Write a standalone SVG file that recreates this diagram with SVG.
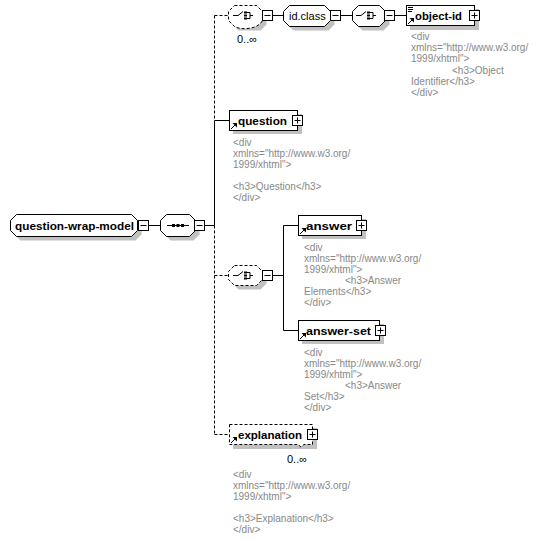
<svg xmlns="http://www.w3.org/2000/svg" width="539" height="540" viewBox="0 0 539 540">
<defs>
<style>
.sh{fill:#c0c0c0;stroke:none}
.bx{fill:#fff;stroke:#000;stroke-width:1}
.dbx{fill:#fff;stroke:#000;stroke-width:1;stroke-dasharray:3,2}
.ln{stroke:#000;stroke-width:1;fill:none}
.dl{stroke:#000;stroke-width:1;fill:none;stroke-dasharray:3,2}
.lbl{font-family:"Liberation Sans",Arial,sans-serif;font-size:11.5px;font-weight:bold;fill:#000}
.nl{font-family:"Liberation Sans",Arial,sans-serif;font-size:11px;fill:#000}
.occ{font-family:"Liberation Sans",Arial,sans-serif;font-size:11px;fill:#000}
.ann{font-family:"Liberation Sans",Arial,sans-serif;font-size:10px;fill:#888}
</style>
<g id="minus"><rect x="0.5" y="0.5" width="10" height="10" class="bx"/><line x1="2.5" y1="5.5" x2="8.5" y2="5.5" class="ln"/></g>
<g id="plus"><rect x="0.5" y="0.5" width="10" height="10" class="bx"/><line x1="2.5" y1="5.5" x2="8.5" y2="5.5" class="ln"/><line x1="5.5" y1="2.5" x2="5.5" y2="8.5" class="ln"/></g>
<g id="ref"><line x1="0" y1="6" x2="4.5" y2="1.5" class="ln" stroke-width="1.5"/><polygon points="1.5,0 6,0 6,4.5" fill="#000"/></g>
<g id="choiceSym">
<line x1="-11" y1="0" x2="-6" y2="0" class="ln"/>
<line x1="-6" y1="0" x2="-1" y2="-4" class="ln"/>
<rect x="0" y="-4" width="3" height="2" fill="#000"/>
<rect x="0" y="-1" width="3" height="2" fill="#000"/>
<rect x="0" y="2" width="3" height="2" fill="#000"/>
<path d="M3,-3 H6 V3 H3 M6,0 H9" class="ln"/>
</g>
<g id="seqSym">
<line x1="-11" y1="0" x2="11" y2="0" class="ln"/>
<rect x="-6" y="-1.5" width="3" height="3" fill="#000"/>
<rect x="-1.5" y="-1.5" width="3" height="3" fill="#000"/>
<rect x="3" y="-1.5" width="3" height="3" fill="#000"/>
</g>
</defs>
<g id="connectors">
<line x1="149" y1="225.5" x2="160" y2="225.5" class="ln"/>
<line x1="205" y1="225.5" x2="214.5" y2="225.5" class="ln"/>
<line x1="214.5" y1="15.5" x2="214.5" y2="120.5" class="dl"/>
<line x1="214.5" y1="120.5" x2="214.5" y2="225.5" class="ln"/>
<line x1="214.5" y1="225.5" x2="214.5" y2="434.5" class="dl"/>
<line x1="214.5" y1="15.5" x2="228" y2="15.5" class="dl"/>
<line x1="214.5" y1="120.5" x2="229" y2="120.5" class="ln"/>
<line x1="214.5" y1="275.5" x2="228" y2="275.5" class="dl"/>
<line x1="214.5" y1="434.5" x2="229" y2="434.5" class="dl"/>
<line x1="273" y1="15.5" x2="283" y2="15.5" class="ln"/>
<line x1="341" y1="15.5" x2="352" y2="15.5" class="ln"/>
<line x1="395" y1="15.5" x2="406" y2="15.5" class="ln"/>
<line x1="273" y1="275.5" x2="283.5" y2="275.5" class="ln"/>
<line x1="283.5" y1="225.5" x2="283.5" y2="330.5" class="ln"/>
<line x1="283.5" y1="225.5" x2="298" y2="225.5" class="ln"/>
<line x1="283.5" y1="330.5" x2="298" y2="330.5" class="ln"/>
</g>
<g id="node-root">
<path d="M20.5,218.5 H135.5 L141.5,224.5 V234.5 L135.5,240.5 H20.5 L14.5,234.5 V224.5 Z" class="sh"/>
<path d="M16.5,214.5 H131.5 L137.5,220.5 V230.5 L131.5,236.5 H16.5 L10.5,230.5 V220.5 Z" class="bx"/>
<text x="15" y="229.5" class="lbl" textLength="119" lengthAdjust="spacingAndGlyphs">question-wrap-model</text>
<use href="#minus" x="138" y="220"/>
</g>
<g id="node-sequence">
<path d="M170.5,218.5 H193.5 L199.5,224.5 V234.5 L193.5,240.5 H170.5 L164.5,234.5 V224.5 Z" class="sh"/>
<path d="M166.5,214.5 H189.5 L195.5,220.5 V230.5 L189.5,236.5 H166.5 L160.5,230.5 V220.5 Z" class="bx"/>
<use href="#seqSym" x="178" y="225.5"/>
<use href="#minus" x="194" y="220"/>
</g>
<g id="node-choice1">
<path d="M238.5,9.5 H260.5 L266.5,15.5 V24.5 L260.5,30.5 H238.5 L232.5,24.5 V15.5 Z" class="sh"/>
<path d="M234.5,5.5 H256.5 L262.5,11.5 V20.5 C258,30 240,30 234.5,26.5 L228.5,20.5 V11.5 Z" class="dbx"/>
<use href="#choiceSym" x="244" y="15.5"/>
<use href="#minus" x="262" y="10"/>
<text x="237" y="43" class="occ">0..∞</text>
</g>
<g id="node-idclass">
<path d="M293.5,9.5 H328.5 L334.5,15.5 V24.5 L328.5,30.5 H293.5 L287.5,24.5 V15.5 Z" class="sh"/>
<path d="M289.5,5.5 H324.5 L330.5,11.5 V20.5 L324.5,26.5 H289.5 L283.5,20.5 V11.5 Z" class="bx"/>
<text x="289" y="20" class="nl">id.class</text>
<use href="#minus" x="330" y="10"/>
</g>
<g id="node-choice2">
<path d="M362.5,9.5 H383.5 L389.5,15.5 V24.5 L383.5,30.5 H362.5 L356.5,24.5 V15.5 Z" class="sh"/>
<path d="M358.5,5.5 H379.5 L385.5,11.5 V20.5 L379.5,26.5 H358.5 L352.5,20.5 V11.5 Z" class="bx"/>
<use href="#choiceSym" x="367" y="15.5"/>
<use href="#minus" x="384" y="10"/>
</g>
<g id="node-object-id">
<rect x="410" y="9" width="69" height="21" class="sh"/>
<rect x="406.5" y="5.5" width="68" height="20" class="bx"/>
<path d="M408,7.5 H413 M408,9.5 H413 M408,11.5 H412" class="ln"/>
<use href="#ref" x="408" y="18"/>
<text x="415" y="20" class="lbl" textLength="47" lengthAdjust="spacingAndGlyphs">object-id</text>
<use href="#plus" x="469" y="10"/>
<text class="ann"><tspan x="411" y="40">&lt;div</tspan><tspan x="411" y="51">xmlns="http://www.w3.org/</tspan><tspan x="411" y="62">1999/xhtml"&gt;</tspan><tspan x="452" y="74">&lt;h3&gt;Object</tspan><tspan x="411" y="85">Identifier&lt;/h3&gt;</tspan><tspan x="411" y="96">&lt;/div&gt;</tspan></text>
</g>
<g id="node-question">
<rect x="233" y="114" width="69" height="20" class="sh"/>
<rect x="229.5" y="110.5" width="68" height="20" class="bx"/>
<use href="#ref" x="231" y="123"/>
<text x="238" y="124.5" class="lbl" textLength="49" lengthAdjust="spacingAndGlyphs">question</text>
<use href="#plus" x="292" y="115"/>
<text class="ann"><tspan x="233" y="146">&lt;div</tspan><tspan x="233" y="157">xmlns="http://www.w3.org/</tspan><tspan x="233" y="168">1999/xhtml"&gt;</tspan><tspan x="233" y="190">&lt;h3&gt;Question&lt;/h3&gt;</tspan><tspan x="233" y="201">&lt;/div&gt;</tspan></text>
</g>
<g id="node-choice3">
<path d="M238.5,269.5 H260.5 L266.5,275.5 V283.5 L260.5,289.5 H238.5 L232.5,283.5 V275.5 Z" class="sh"/>
<path d="M234.5,265.5 H256.5 L262.5,271.5 V279.5 L256.5,285.5 H234.5 L228.5,279.5 V271.5 Z" class="dbx"/>
<use href="#choiceSym" x="244" y="275.5"/>
<use href="#minus" x="262" y="270"/>
</g>
<g id="node-answer">
<rect x="302" y="219" width="64" height="20" class="sh"/>
<rect x="298.5" y="215.5" width="63" height="20" class="bx"/>
<use href="#ref" x="300" y="228"/>
<text x="306" y="229.5" class="lbl" textLength="46" lengthAdjust="spacingAndGlyphs">answer</text>
<use href="#plus" x="356" y="220"/>
<text class="ann"><tspan x="304" y="251">&lt;div</tspan><tspan x="304" y="262">xmlns="http://www.w3.org/</tspan><tspan x="304" y="273">1999/xhtml"&gt;</tspan><tspan x="345" y="284">&lt;h3&gt;Answer</tspan><tspan x="304" y="295">Elements&lt;/h3&gt;</tspan><tspan x="304" y="306">&lt;/div&gt;</tspan></text>
</g>
<g id="node-answer-set">
<rect x="302" y="324" width="82" height="20" class="sh"/>
<rect x="298.5" y="320.5" width="81" height="20" class="bx"/>
<use href="#ref" x="300" y="333"/>
<text x="306" y="334.5" class="lbl" textLength="65" lengthAdjust="spacingAndGlyphs">answer-set</text>
<use href="#plus" x="375" y="325"/>
<text class="ann"><tspan x="304" y="356">&lt;div</tspan><tspan x="304" y="367">xmlns="http://www.w3.org/</tspan><tspan x="304" y="378">1999/xhtml"&gt;</tspan><tspan x="345" y="389">&lt;h3&gt;Answer</tspan><tspan x="304" y="400">Set&lt;/h3&gt;</tspan><tspan x="304" y="411">&lt;/div&gt;</tspan></text>
</g>
<g id="node-explanation">
<rect x="233" y="428" width="84" height="21" class="sh"/>
<path d="M229.5,424.5 H312.5 V444.5 H304 L301,447 L298,444.5 H229.5 Z" class="dbx"/>
<use href="#ref" x="231" y="437"/>
<text x="238" y="439" class="lbl" textLength="64" lengthAdjust="spacingAndGlyphs">explanation</text>
<use href="#plus" x="307" y="429"/>
<text x="287" y="463" class="occ">0..∞</text>
<text class="ann"><tspan x="233" y="478">&lt;div</tspan><tspan x="233" y="489">xmlns="http://www.w3.org/</tspan><tspan x="233" y="500">1999/xhtml"&gt;</tspan><tspan x="233" y="522">&lt;h3&gt;Explanation&lt;/h3&gt;</tspan><tspan x="233" y="533">&lt;/div&gt;</tspan></text>
</g>
</svg>
